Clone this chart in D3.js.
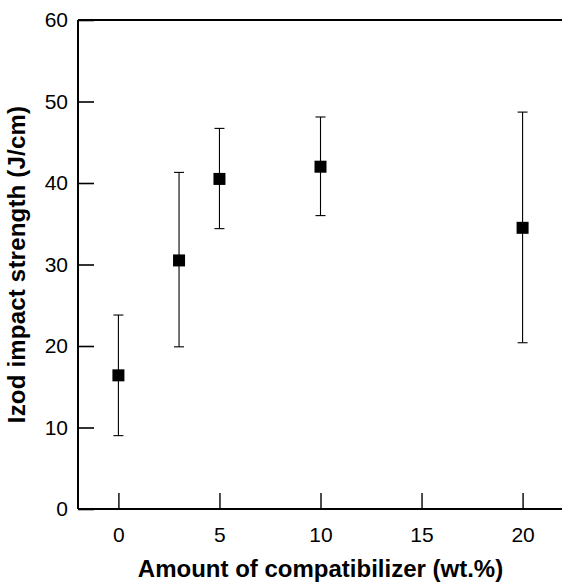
<!DOCTYPE html>
<html>
<head>
<meta charset="utf-8">
<script src="https://cdn.jsdelivr.net/npm/d3@7"></script>
<style>
  html, body { margin: 0; padding: 0; background: #fff; }
  svg { display: block; }
  text { font-family: "Liberation Sans", Arial, Helvetica, sans-serif; fill: #000; }
</style>
</head>
<body>
<svg id="chart" width="562" height="582"></svg>
<script>
// Izod impact strength vs. compatibilizer content
const amounts   = [0, 3, 5, 10, 20];            // wt.%
const strength  = [16.4, 30.5, 40.5, 42.0, 34.5]; // J/cm (mean)
const errUpper  = [23.8, 41.3, 46.7, 48.1, 48.7]; // J/cm (upper bound)
const errLower  = [9.0, 19.9, 34.4, 36.0, 20.4];  // J/cm (lower bound)
const xTicks    = [0, 5, 10, 15, 20];
const yTicks    = [0, 10, 20, 30, 40, 50, 60];

const xTitle = "Amount of compatibilizer (wt.%)";
const yTitle = "Izod impact strength (J/cm)";

const svg = d3.select("#chart");

const x = d3.scaleLinear().domain([-2, 22]).range([78, 563]);
const y = d3.scaleLinear().domain([0, 60]).range([509, 20]);

// frame: left spine, bottom spine, top line
const frame = svg.append("g").attr("stroke", "#000").attr("fill", "none");
frame.append("line").attr("x1", x(-2)).attr("x2", x(-2)).attr("y1", y(60)).attr("y2", y(0)).attr("stroke-width", 2);
frame.append("line").attr("x1", x(-2)).attr("x2", x(22)).attr("y1", y(0)).attr("y2", y(0)).attr("stroke-width", 2);
frame.append("line").attr("x1", x(-2)).attr("x2", x(22)).attr("y1", y(60)).attr("y2", y(60)).attr("stroke-width", 2);

// y axis: ticks pointing inward
const yAxis = svg.append("g")
  .attr("transform", `translate(${x(-2)},0)`)
  .call(d3.axisLeft(y).tickValues(yTicks).tickSize(-16).tickPadding(10).tickFormat(d3.format("d")));
yAxis.select(".domain").remove();
yAxis.selectAll(".tick line").attr("stroke", "#000").attr("stroke-width", 1.6);
yAxis.selectAll(".tick text").attr("font-size", 21).attr("font-family", null);

// x axis: ticks pointing inward (upward)
const xAxis = svg.append("g")
  .attr("transform", `translate(0,${y(0)})`)
  .call(d3.axisBottom(x).tickValues(xTicks).tickSize(-16).tickPadding(18).tickFormat(d3.format("d")));
xAxis.select(".domain").remove();
xAxis.selectAll(".tick line").attr("stroke", "#000").attr("stroke-width", 1.4);
xAxis.selectAll(".tick text").attr("font-size", 21).attr("font-family", null);

// axis titles, centred on the plot area
svg.append("text")
  .attr("x", (x(-2) + x(22)) / 2).attr("y", 577)
  .attr("text-anchor", "middle")
  .attr("font-size", 24).attr("font-weight", "bold")
  .text(xTitle);

svg.append("text")
  .attr("transform", `translate(25,${(y(0) + y(60)) / 2}) rotate(-90)`)
  .attr("text-anchor", "middle")
  .attr("font-size", 24).attr("font-weight", "bold")
  .attr("letter-spacing", 0.2)
  .text(yTitle);

const pts = amounts.map((a, i) => ({ a, v: strength[i], hi: errUpper[i], lo: errLower[i] }));

// error bars
const capHalf = 5;
const eb = svg.append("g").attr("stroke", "#000").attr("stroke-width", 1.1);
eb.selectAll("line.stem").data(pts).join("line").attr("class", "stem")
  .attr("x1", d => x(d.a)).attr("x2", d => x(d.a))
  .attr("y1", d => y(d.hi)).attr("y2", d => y(d.lo));
eb.selectAll("line.cap-hi").data(pts).join("line").attr("class", "cap-hi")
  .attr("x1", d => x(d.a) - capHalf).attr("x2", d => x(d.a) + capHalf)
  .attr("y1", d => y(d.hi)).attr("y2", d => y(d.hi));
eb.selectAll("line.cap-lo").data(pts).join("line").attr("class", "cap-lo")
  .attr("x1", d => x(d.a) - capHalf).attr("x2", d => x(d.a) + capHalf)
  .attr("y1", d => y(d.lo)).attr("y2", d => y(d.lo));

// square markers
const sz = 12;
svg.append("g").selectAll("rect").data(pts).join("rect")
  .attr("x", d => x(d.a) - sz / 2).attr("y", d => y(d.v) - sz / 2)
  .attr("width", sz).attr("height", sz)
  .attr("fill", "#000");
</script>
</body>
</html>
